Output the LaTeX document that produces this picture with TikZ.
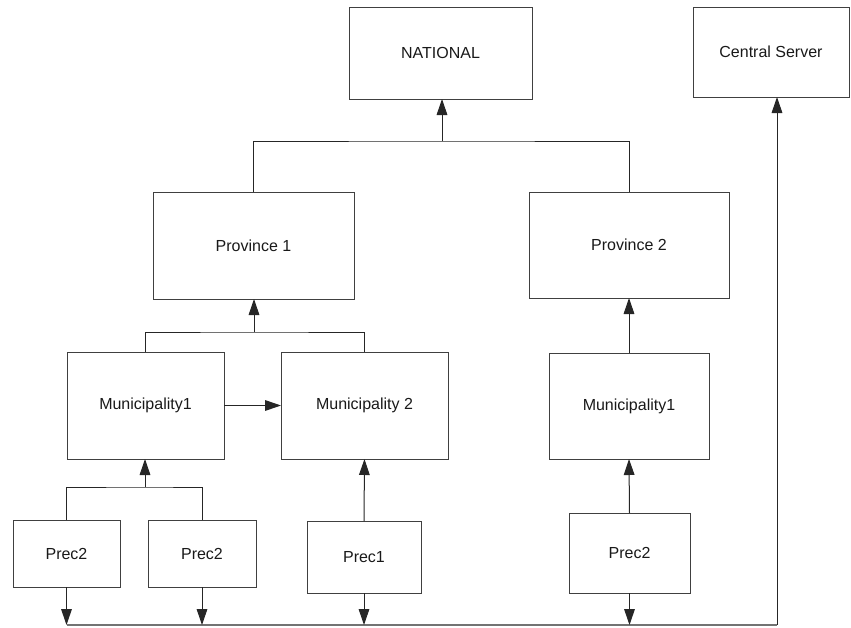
\documentclass[tikz,border=0pt]{standalone}
\usepackage{fontspec}
\setmainfont{Liberation Sans}
\usetikzlibrary{arrows.meta}
\begin{document}
\begin{tikzpicture}[x=0.75pt,y=-0.75pt]
  \tikzstyle{unitbox}=[draw=black!75,line width=0.75pt,inner sep=0pt,outer sep=0pt,font=\fontsize{12}{14}\selectfont,text=black!90]
  \tikzstyle{link}=[draw=black!85,line width=0.75pt]
  \tikzstyle{arrowlink}=[link,-{Triangle[length=12pt,width=8pt]}]
  \tikzstyle{bus}=[draw=black!55,line width=1.5pt]
  \def\u{0.75pt} % one pixel of the reference
  \useasboundingbox (0,0) rectangle (851,628);
  % top level
  \node[unitbox,minimum width=183*\u,minimum height=92*\u] (national) at (440.5,53) {NATIONAL};
  \node[unitbox,minimum width=156*\u,minimum height=90*\u] (central) at (771,52) {Central Server};
  % provinces
  \node[unitbox,minimum width=201*\u,minimum height=107*\u] (prov1) at (253.5,245.5) {Province 1};
  \node[unitbox,minimum width=200*\u,minimum height=106*\u] (prov2) at (629,245) {Province 2};
  % municipalities
  \node[unitbox,minimum width=157*\u,minimum height=107*\u] (muni1) at (145.5,405.5) {Municipality1};
  \node[unitbox,minimum width=167*\u,minimum height=107*\u] (muni2) at (364.5,405.5) {Municipality 2};
  \node[unitbox,minimum width=160*\u,minimum height=106*\u] (muni3) at (629,406) {Municipality1};
  % precincts
  \node[unitbox,minimum width=107*\u,minimum height=67*\u] (prec1) at (66.5,553.5) {Prec2};
  \node[unitbox,minimum width=108*\u,minimum height=67*\u] (prec2) at (202,553.5) {Prec2};
  \node[unitbox,minimum width=114*\u,minimum height=72*\u] (prec3) at (364,557) {Prec1};
  \node[unitbox,minimum width=121*\u,minimum height=80*\u] (prec4) at (629.5,553) {Prec2};
  % joints
  \coordinate (jnat) at (442,141);
  \coordinate (jprov) at (254,332);
  \coordinate (jmuni) at (145,487);
  \coordinate (busL) at (67,625);
  \coordinate (busR) at (777,625);
  % hierarchy
  \draw[link] (prov1.north) |- (jnat) -| (prov2.north);
  \draw[arrowlink] (jnat) -- (jnat |- national.south);
  \draw[link] (muni1.north) |- (jprov) -| (muni2.north);
  \draw[arrowlink] (jprov) -- (jprov |- prov1.south);
  \draw[arrowlink] (muni1.east) -- (muni2.west);
  \draw[arrowlink] (muni3.north) -- (prov2.south);
  \draw[link] (prec1.north) |- (jmuni) -| (prec2.north);
  \draw[arrowlink] (jmuni) -- (jmuni |- muni1.south);
  \draw[arrowlink] (prec3.north) -- (muni2.south);
  \draw[arrowlink] (prec4.north) -- (muni3.south);
  % bus to central server
  \draw[bus] (busL) -- (busR);
  \draw[arrowlink] (busR) -- (busR |- central.south);
  \foreach \p in {prec1,prec2,prec3,prec4}
    \draw[arrowlink] (\p.south) -- (\p.south |- busL);
\end{tikzpicture}
\end{document}
